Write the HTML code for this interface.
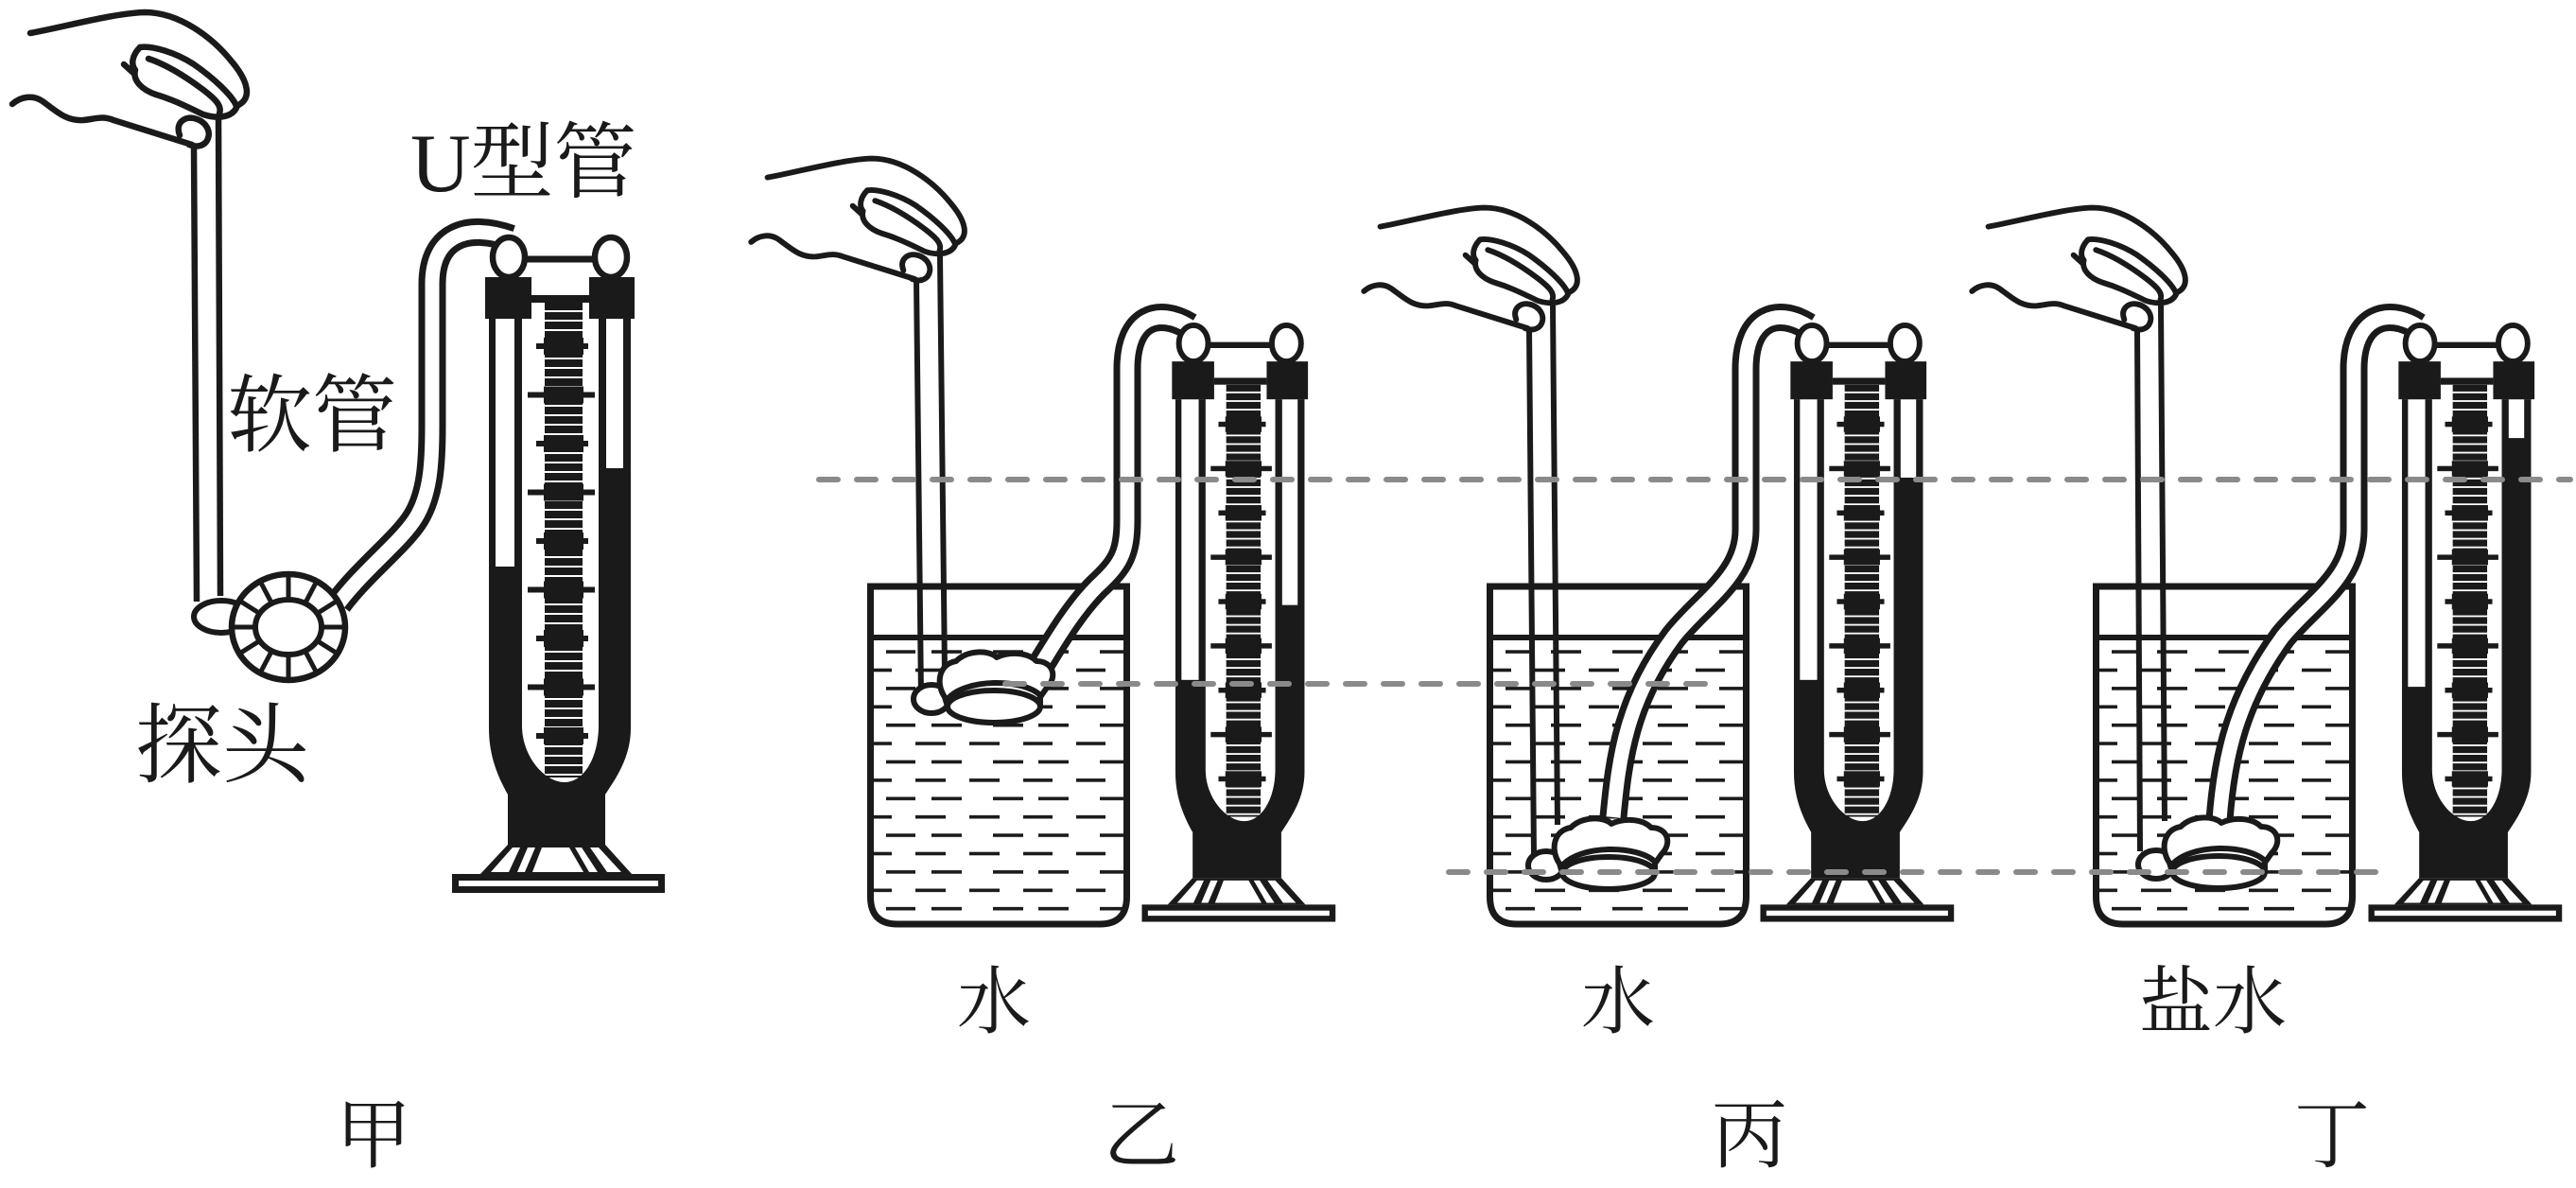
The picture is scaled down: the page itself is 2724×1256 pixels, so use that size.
<!DOCTYPE html>
<html>
<head>
<meta charset="utf-8">
<style>
html,body{margin:0;padding:0;background:#fff;}
svg{display:block;}
.t{font-family:"Liberation Serif","Noto Serif CJK SC",serif;fill:#1a1a1a;}
</style>
</head>
<body>
<svg width="2724" height="1256" viewBox="0 0 2724 1256" xmlns="http://www.w3.org/2000/svg">
<defs>
  <pattern id="tick" width="42" height="10" patternUnits="userSpaceOnUse" x="0" y="320">
    <rect x="0" y="0" width="42" height="8" fill="#1a1a1a"/>
  </pattern>
  <pattern id="wd" width="300" height="38.8" patternUnits="userSpaceOnUse" x="0" y="679.3">
    <g fill="#1a1a1a">
      <rect x="20" y="8" width="31" height="3.6"/><rect x="68" y="8" width="32" height="3.6"/>
      <rect x="133" y="8" width="32" height="3.6"/><rect x="181" y="8" width="32" height="3.6"/>
      <rect x="246" y="8" width="25" height="3.6"/>
      <rect x="7" y="27.4" width="19" height="3.6"/><rect x="51" y="27.4" width="32" height="3.6"/>
      <rect x="108" y="27.4" width="32" height="3.6"/><rect x="165" y="27.4" width="31" height="3.6"/>
      <rect x="221" y="27.4" width="31" height="3.6"/>
    </g>
  </pattern>

  <g id="manoBase">
    <rect x="576" y="320" width="40" height="502" fill="url(#tick)"/>
    <g fill="#1a1a1a">
      <rect x="575" y="357" width="42" height="18"/><rect x="567" y="363" width="55" height="6"/>
      <rect x="575" y="408.5" width="42" height="18"/><rect x="558" y="414.5" width="71" height="6"/>
      <rect x="575" y="460" width="42" height="18"/><rect x="567" y="466" width="55" height="6"/>
      <rect x="575" y="511.5" width="42" height="18"/><rect x="558" y="517.5" width="71" height="6"/>
      <rect x="575" y="563" width="42" height="18"/><rect x="567" y="569" width="55" height="6"/>
      <rect x="575" y="614.5" width="42" height="18"/><rect x="558" y="620.5" width="71" height="6"/>
      <rect x="575" y="666" width="42" height="18"/><rect x="567" y="672" width="55" height="6"/>
      <rect x="575" y="717.5" width="42" height="18"/><rect x="558" y="723.5" width="71" height="6"/>
      <rect x="575" y="769" width="42" height="18"/><rect x="567" y="775" width="55" height="6"/>
      <path d="M517,337 L517,770 C517,800 527,822 537,840 L537,893 L640,893 L640,840 C652,822 667,800 667,770 L667,337 L633,337 L633,767 C633,800 618,827 597,827 C576,827 552,800 552,767 L552,337 Z"/>
      <polygon points="537,893 640,893 668,924 508,924"/>
      <rect x="478" y="924" width="225" height="20"/>
    </g>
    <g fill="#fff">
      <polygon points="542,896 550,896 538,922 519,922"/>
      <polygon points="558,896 566,896 555,922 547,922"/>
      <polygon points="573,896 602,896 617,922 563,922"/>
      <polygon points="608,896 615,896 632,922 623,922"/>
      <polygon points="624,896 633,896 657,922 642,922"/>
      <rect x="485" y="931" width="211" height="6"/>
    </g>
  </g>
  <g id="manoTop">
    <g fill="#1a1a1a">
      <rect x="513" y="293" width="49" height="44"/>
      <rect x="623" y="293" width="48" height="44"/>
      <rect x="562" y="312" width="61" height="8"/>
    </g>
    <line x1="552" y1="274" x2="632" y2="274" stroke="#1a1a1a" stroke-width="7"/>
    <ellipse cx="538" cy="272" rx="17" ry="21" fill="#fff" stroke="#1a1a1a" stroke-width="6.5"/>
    <ellipse cx="646" cy="272" rx="17" ry="21" fill="#fff" stroke="#1a1a1a" stroke-width="6.5"/>
  </g>

  <g id="hand" fill="none" stroke="#1a1a1a" stroke-width="6.5" stroke-linecap="round" stroke-linejoin="round">
    <path d="M32,35 C70,28 120,14 153,13 C190,13 225,40 245,65 C262,85 268,105 250,112"/>
    <path d="M148,50 C160,48 185,55 205,68 C225,82 245,100 250,112"/>
    <path d="M157,62 C175,68 195,80 215,95 C228,105 235,112 232,120"/>
    <path d="M148,50 C140,58 138,68 143,74 C140,85 150,95 165,100 C185,106 200,114 215,121 C230,126 245,124 250,114"/>
    <path d="M131,68 L142,78"/>
    <path d="M13,110 C22,102 35,100 45,107 C60,118 70,128 88,127 C100,126 108,122 120,127 L203,153"/>
    <path d="M190,143 C185,130 195,123 205,125 C218,128 225,140 218,150 C213,156 205,155 200,153"/>
  </g>

  <g id="probe" stroke="#1a1a1a" stroke-width="6" stroke-linejoin="round">
    <ellipse cx="-66" cy="-8" rx="19" ry="15" fill="#fff"/>
    <path d="M-52,-10 C-62,-25 -58,-45 -40,-48 C-28,-60 -5,-60 3,-52 C15,-58 35,-58 45,-48 C62,-48 68,-32 56,-20 L49,-10 L49,0 L-49,0 Z" fill="#fff"/>
    <ellipse cx="0" cy="0" rx="49" ry="17" fill="#fff"/>
    <path d="M-49,-8 C-30,-30 30,-30 49,-12" fill="none"/>
  </g>

  <g id="beaker">
    <rect x="7" y="680" width="264" height="292" fill="url(#wd)"/>
    <path d="M3.5,620 L3.5,948 Q3.5,977 32,977 L246,977 Q274.5,977 274.5,948 L274.5,620 Z" fill="none" stroke="#1a1a1a" stroke-width="7"/>
    <line x1="3.5" y1="674" x2="274.5" y2="674" stroke="#1a1a1a" stroke-width="6"/>
  </g>
</defs>

<!-- ============ 甲 ============ -->
<use href="#hand"/>
<g stroke="#1a1a1a" stroke-width="6.5" fill="none">
  <line x1="205" y1="153" x2="208" y2="636"/>
  <line x1="231" y1="124" x2="233" y2="630"/>
</g>
<path d="M358,638 C385,602 425,572 440,547 C455,522 457,490 457,450 L457,300 C457,248 495,236 540,252" fill="none" stroke="#1a1a1a" stroke-width="29" stroke-linejoin="round"/>
<path d="M358,638 C385,602 425,572 440,547 C455,522 457,490 457,450 L457,300 C457,248 495,236 540,252" fill="none" stroke="#fff" stroke-width="15" stroke-linejoin="round"/>
<ellipse cx="234" cy="652" rx="29" ry="17" fill="#fff" stroke="#1a1a1a" stroke-width="6"/>
<ellipse cx="305" cy="663" rx="60" ry="56" fill="#fff" stroke="#1a1a1a" stroke-width="6.5"/>
<ellipse cx="305" cy="663" rx="35" ry="29" fill="#fff" stroke="#1a1a1a" stroke-width="6"/>
<g stroke="#1a1a1a" stroke-width="5">
  <line x1="342" y1="663" x2="362" y2="663"/><line x1="337" y1="678.5" x2="354.4" y2="689.5"/>
  <line x1="323.5" y1="689.8" x2="333.5" y2="708.9"/><line x1="305" y1="694" x2="305" y2="716"/>
  <line x1="286.5" y1="689.8" x2="276.5" y2="708.9"/><line x1="273" y1="678.5" x2="255.6" y2="689.5"/>
  <line x1="268" y1="663" x2="248" y2="663"/><line x1="273" y1="647.5" x2="255.6" y2="636.5"/>
  <line x1="286.5" y1="636.2" x2="276.5" y2="617.1"/><line x1="305" y1="632" x2="305" y2="610"/>
  <line x1="323.5" y1="636.2" x2="333.5" y2="617.1"/><line x1="337" y1="647.5" x2="354.4" y2="636.5"/>
</g>
<g>
  <use href="#manoBase"/>
  <rect x="524" y="337" width="20" height="262" fill="#fff"/>
  <rect x="641" y="337" width="18" height="158" fill="#fff"/>
  <use href="#manoTop"/>
</g>

<!-- ============ 乙 ============ -->
<g transform="translate(917,0)"><use href="#beaker"/></g>
<g transform="translate(969,295) scale(0.91) translate(-205,-153)"><use href="#hand"/></g>
<g stroke="#1a1a1a" stroke-width="6" fill="none">
  <line x1="969" y1="295" x2="974" y2="738"/>
  <line x1="994" y1="271" x2="999" y2="712"/>
</g>
<path d="M1100,704 C1115,680 1135,645 1160,620 C1185,597 1192,585 1192,550 L1192,390 C1192,335 1225,325 1258,345" fill="none" stroke="#1a1a1a" stroke-width="29" stroke-linejoin="round"/>
<path d="M1100,704 C1115,680 1135,645 1160,620 C1185,597 1192,585 1192,550 L1192,390 C1192,335 1225,325 1258,345" fill="none" stroke="#fff" stroke-width="15" stroke-linejoin="round"/>
<g transform="translate(1051,747)"><use href="#probe"/></g>
<g transform="matrix(0.91,0,0,0.91,772.5,115.5)">
  <use href="#manoBase"/>
  <rect x="524" y="337" width="20" height="326" fill="#fff"/>
  <rect x="641" y="337" width="18" height="239" fill="#fff"/>
  <use href="#manoTop"/>
</g>

<!-- ============ 丙 ============ -->
<g transform="translate(1572,0)"><use href="#beaker"/></g>
<g transform="translate(1617,347) scale(0.91) translate(-205,-153)"><use href="#hand"/></g>
<g stroke="#1a1a1a" stroke-width="6" fill="none">
  <line x1="1617" y1="347" x2="1622" y2="905"/>
  <line x1="1642" y1="323" x2="1647" y2="872"/>
</g>
<path d="M1706,864 C1712,800 1720,740 1770,673 C1800,635 1846,610 1846,560 L1846,390 C1846,335 1880,325 1912,345" fill="none" stroke="#1a1a1a" stroke-width="29" stroke-linejoin="round"/>
<path d="M1706,864 C1712,800 1720,740 1770,673 C1800,635 1846,610 1846,560 L1846,390 C1846,335 1880,325 1912,345" fill="none" stroke="#fff" stroke-width="15" stroke-linejoin="round"/>
<g transform="translate(1701,923)"><use href="#probe"/></g>
<g transform="matrix(0.91,0,0,0.91,1426.5,115.5)">
  <use href="#manoBase"/>
  <rect x="524" y="337" width="20" height="326" fill="#fff"/>
  <rect x="641" y="337" width="18" height="91" fill="#fff"/>
  <use href="#manoTop"/>
</g>

<!-- ============ 丁 ============ -->
<g transform="translate(2213,0)"><use href="#beaker"/></g>
<g transform="translate(2260,347) scale(0.91) translate(-205,-153)"><use href="#hand"/></g>
<g stroke="#1a1a1a" stroke-width="6" fill="none">
  <line x1="2260" y1="347" x2="2263" y2="900"/>
  <line x1="2285" y1="323" x2="2289" y2="868"/>
</g>
<path d="M2347,867 C2352,800 2365,740 2414,673 C2445,635 2489,612 2489,560 L2489,390 C2489,335 2525,325 2557,345" fill="none" stroke="#1a1a1a" stroke-width="29" stroke-linejoin="round"/>
<path d="M2347,867 C2352,800 2365,740 2414,673 C2445,635 2489,612 2489,560 L2489,390 C2489,335 2525,325 2557,345" fill="none" stroke="#fff" stroke-width="15" stroke-linejoin="round"/>
<g transform="translate(2346,922)"><use href="#probe"/></g>
<g transform="matrix(0.91,0,0,0.91,2069.5,115.5)">
  <use href="#manoBase"/>
  <rect x="524" y="337" width="20" height="334" fill="#fff"/>
  <rect x="641" y="337" width="18" height="45" fill="#fff"/>
  <use href="#manoTop"/>
</g>

<!-- dashed reference lines -->
<g stroke="#8a8a8a" stroke-width="6" stroke-linecap="round" stroke-dasharray="20 20" fill="none">
  <line x1="866" y1="507" x2="2718" y2="507"/>
  <line x1="1063" y1="723" x2="1804" y2="723"/>
  <line x1="1532" y1="922" x2="2527" y2="922"/>
</g>

<!-- labels -->
<text class="t" x="434" y="202" font-size="88">U型管</text>
<text class="t" x="240" y="470" font-size="90">软管</text>
<text class="t" x="143" y="820" font-size="92">探头</text>
<text class="t" x="1051" y="1086" font-size="78" text-anchor="middle">水</text>
<text class="t" x="1711" y="1086" font-size="78" text-anchor="middle">水</text>
<text class="t" x="2340" y="1086" font-size="78" text-anchor="middle">盐水</text>
<text class="t" x="395" y="1228" font-size="80" text-anchor="middle">甲</text>
<text class="t" x="1207" y="1228" font-size="80" text-anchor="middle">乙</text>
<text class="t" x="1850" y="1228" font-size="80" text-anchor="middle">丙</text>
<text class="t" x="2466" y="1228" font-size="80" text-anchor="middle">丁</text>
</svg>
</body>
</html>
